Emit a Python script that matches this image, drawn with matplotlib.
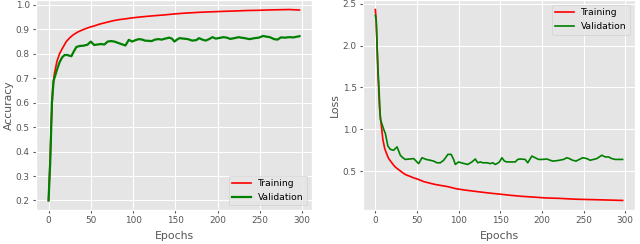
import numpy as np
import matplotlib
matplotlib.use("Agg")
import matplotlib.pyplot as plt

plt.style.use("ggplot")

# accuracy curves
acc_train_ep = [0, 2, 3, 5, 7, 10, 13, 16, 21, 25, 29, 34, 39, 44, 49, 55, 60, 68, 76, 84, 91, 99,
                107, 116, 126, 137, 149, 160, 170, 180, 195, 210, 220, 235, 250, 258, 270, 285, 297]
acc_train = [0.20, 0.38, 0.50, 0.66, 0.72, 0.77, 0.80, 0.82, 0.85, 0.865, 0.877, 0.888, 0.896, 0.903,
             0.909, 0.915, 0.921, 0.928, 0.935, 0.940, 0.943, 0.947, 0.950, 0.953, 0.956, 0.959, 0.963,
             0.966, 0.968, 0.970, 0.972, 0.974, 0.975, 0.977, 0.978, 0.979, 0.980, 0.981, 0.979]

acc_val_ep = [0, 2, 3, 4, 6, 10, 13, 16, 19, 22, 27, 30, 33, 37, 41, 46, 50, 54, 58, 62, 66, 70,
              74, 78, 82, 86, 91, 95, 99, 103, 107, 111, 114, 118, 122, 126, 130, 134, 138, 143, 146,
              149, 152, 155, 160, 165, 170, 175, 178, 182, 186, 190, 194, 198, 201, 207, 211, 215,
              220, 225, 228, 232, 238, 244, 249, 254, 258, 262, 267, 271, 275, 280, 285, 290, 297]
acc_val = [0.20, 0.36, 0.48, 0.60, 0.69, 0.735, 0.765, 0.785, 0.795, 0.795, 0.79, 0.81, 0.828, 0.832,
           0.833, 0.837, 0.850, 0.836, 0.838, 0.840, 0.838, 0.850, 0.852, 0.850, 0.845, 0.840, 0.834,
           0.857, 0.850, 0.856, 0.860, 0.858, 0.854, 0.853, 0.852, 0.858, 0.860, 0.858, 0.862, 0.866,
           0.862, 0.850, 0.858, 0.864, 0.862, 0.860, 0.854, 0.856, 0.864, 0.858, 0.854, 0.860, 0.868,
           0.862, 0.864, 0.868, 0.866, 0.861, 0.864, 0.868, 0.866, 0.864, 0.860, 0.864, 0.866, 0.873,
           0.870, 0.868, 0.860, 0.858, 0.867, 0.866, 0.868, 0.867, 0.872]

# loss curves
loss_train_ep = [0, 1, 3, 5, 7, 9, 11, 13, 16, 19, 22, 25, 29, 33, 36, 41, 46, 52, 58, 64, 70, 78,
                 87, 97, 107, 117, 127, 138, 150, 162, 175, 190, 205, 221, 240, 260, 280, 297]
loss_train = [2.43, 2.30, 1.70, 1.25, 1.06, 0.88, 0.78, 0.72, 0.65, 0.61, 0.57, 0.54, 0.51, 0.48,
              0.46, 0.44, 0.42, 0.40, 0.375, 0.36, 0.345, 0.33, 0.315, 0.29, 0.275, 0.262, 0.25,
              0.237, 0.225, 0.212, 0.20, 0.19, 0.18, 0.175, 0.165, 0.16, 0.155, 0.15]

loss_val_ep = [0, 1, 3, 5, 6, 8, 10, 12, 15, 18, 22, 26, 28, 30, 33, 36, 41, 46, 49, 52, 56, 61,
               66, 70, 74, 78, 82, 85, 87, 91, 94, 96, 100, 103, 107, 111, 116, 120, 123, 126, 129,
               134, 138, 141, 144, 146, 149, 152, 155, 158, 163, 168, 171, 174, 180, 183, 188, 192,
               196, 201, 206, 210, 213, 218, 221, 226, 230, 233, 237, 241, 245, 249, 254, 258, 262,
               266, 272, 276, 280, 284, 288, 293, 297]
loss_val = [2.36, 2.30, 1.75, 1.35, 1.12, 1.06, 1.00, 0.95, 0.80, 0.76, 0.75, 0.79, 0.74, 0.69, 0.66,
            0.64, 0.645, 0.65, 0.62, 0.59, 0.66, 0.64, 0.63, 0.62, 0.60, 0.60, 0.63, 0.67, 0.70, 0.70,
            0.64, 0.58, 0.61, 0.60, 0.59, 0.58, 0.61, 0.645, 0.60, 0.61, 0.60, 0.60, 0.59, 0.60, 0.58,
            0.59, 0.61, 0.66, 0.62, 0.61, 0.61, 0.61, 0.64, 0.645, 0.64, 0.60, 0.68, 0.66, 0.64, 0.64,
            0.645, 0.63, 0.62, 0.625, 0.63, 0.64, 0.66, 0.65, 0.63, 0.62, 0.64, 0.66, 0.65, 0.63, 0.64,
            0.65, 0.69, 0.67, 0.67, 0.65, 0.64, 0.64, 0.64]

fig = plt.figure(figsize=(6.4, 2.44), dpi=100)
ax1 = fig.add_axes([36 / 640, 34 / 244, 276 / 640, 210 / 244])
ax2 = fig.add_axes([363 / 640, 34 / 244, 272 / 640, 210 / 244])

ax1.plot(acc_train_ep, acc_train, color="red", lw=1.2, label="Training")
ax1.plot(acc_val_ep, acc_val, color="green", lw=1.6, label="Validation")
ax1.set_xlabel("Epochs", fontsize=7.8, color="#555555", labelpad=4)
ax1.set_ylabel("Accuracy", fontsize=7.8, color="#555555", labelpad=1)
ax1.set_xticks(np.arange(0, 301, 50))
ax1.set_yticks(np.arange(0.2, 1.01, 0.1))
ax1.legend(loc="lower right", fontsize=6.6)

ax2.plot(loss_train_ep, loss_train, color="red", lw=1.2, label="Training")
ax2.plot(loss_val_ep, loss_val, color="green", lw=1.2, label="Validation")
ax2.set_xlabel("Epochs", fontsize=7.8, color="#555555", labelpad=4)
ax2.set_ylabel("Loss", fontsize=7.8, color="#555555", labelpad=2)
ax2.set_xticks(np.arange(0, 301, 50))
ax2.set_yticks([0.5, 1.0, 1.5, 2.0, 2.5])
ax2.legend(loc="upper right", fontsize=6.6)

for ax in (ax1, ax2):
    ax.tick_params(labelsize=6.4, length=2, pad=2.5)

fig.savefig("out.png", dpi=100)
